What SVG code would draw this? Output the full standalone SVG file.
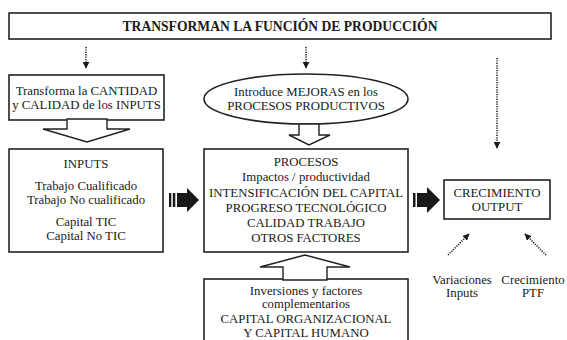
<svg xmlns="http://www.w3.org/2000/svg" width="567" height="340" viewBox="0 0 567 340" font-family="'Liberation Serif', 'DejaVu Serif', serif">
<style>
text{font-family:"Liberation Serif","DejaVu Serif",serif;font-size:12.8px;fill:#1a1a1a;text-anchor:middle}
.t{font-weight:bold;font-size:13.6px}
.box{fill:#fff;stroke:#222;stroke-width:1.6}
.hol{fill:#fff;stroke:#222;stroke-width:1.4;stroke-linejoin:miter}
.dot{fill:none;stroke:#222;stroke-width:1.6;stroke-dasharray:1.2 1.2}
.solid{fill:#1a1a1a}
</style>
<defs>
<marker id="ah" viewBox="0 0 10 10" refX="9" refY="5" markerWidth="7" markerHeight="7" markerUnits="userSpaceOnUse" orient="auto">
<path d="M0,0 L10,5 L0,10 z" fill="#1a1a1a"/>
</marker>
</defs>
<rect width="567" height="340" fill="#fff"/>

<g id="title">
<rect class="box" x="9" y="13" width="542" height="26"/>
<text class="t" x="280" y="30.5">TRANSFORMAN LA FUNCIÓN DE PRODUCCIÓN</text>
</g>

<g id="transforma">
<rect class="box" x="9" y="75" width="155" height="45"/>
<text x="86.5" y="95">Transforma la CANTIDAD</text>
<text x="86.5" y="109">y CALIDAD de los INPUTS</text>
</g>

<g id="mejoras">
<ellipse class="box" cx="306" cy="99" rx="102" ry="25"/>
<text x="306" y="96">Introduce MEJORAS en los</text>
<text x="306" y="110">PROCESOS PRODUCTIVOS</text>
</g>

<g id="inputs">
<rect class="box" x="9" y="149" width="154" height="103"/>
<text x="86" y="168">INPUTS</text>
<text x="86" y="190">Trabajo Cualificado</text>
<text x="86" y="204">Trabajo No cualificado</text>
<text x="86" y="226">Capital TIC</text>
<text x="86" y="240">Capital No TIC</text>
</g>

<g id="procesos">
<rect class="box" x="204" y="149" width="204" height="103"/>
<text x="306" y="166">PROCESOS</text>
<text x="306" y="181">Impactos / productividad</text>
<text x="306" y="197">INTENSIFICACIÓN DEL CAPITAL</text>
<text x="306" y="212">PROGRESO TECNOLÓGICO</text>
<text x="306" y="227">CALIDAD TRABAJO</text>
<text x="306" y="242">OTROS FACTORES</text>
</g>

<g id="crecimiento">
<rect class="box" x="444" y="180" width="106" height="39"/>
<text x="497" y="197">CRECIMIENTO</text>
<text x="497" y="211">OUTPUT</text>
</g>

<g id="inversiones">
<rect class="box" x="204" y="279" width="204" height="70"/>
<text x="306" y="295">Inversiones y factores</text>
<text x="306" y="308">complementarios</text>
<text x="306" y="323">CAPITAL ORGANIZACIONAL</text>
<text x="306" y="337">Y CAPITAL HUMANO</text>
</g>

<g id="labels">
<text x="462" y="284">Variaciones</text>
<text x="462" y="297">Inputs</text>
<text x="533" y="284">Crecimiento</text>
<text x="533" y="297">PTF</text>
</g>

<g id="connectors">
<line class="dot" x1="86" y1="47" x2="86" y2="68" marker-end="url(#ah)"/>
<line class="dot" x1="306" y1="47" x2="306" y2="68" marker-end="url(#ah)"/>
<line class="dot" x1="497" y1="58" x2="497" y2="148" marker-end="url(#ah)"/>
<line class="dot" x1="448" y1="255" x2="469" y2="234" marker-end="url(#ah)"/>
<line class="dot" x1="546" y1="255" x2="525" y2="234" marker-end="url(#ah)"/>
<polygon class="hol" points="67,119 107,119 107,129 130,129 87,142 43,129 67,129"/>
<polygon class="hol" points="299,124 319,124 319,135 330,135 309,145 289,135 299,135"/>
<polygon class="hol" points="283,280 283,267 260,267 305,255 350,267 327,267 327,280"/>
<g class="solid">
<rect x="169" y="193" width="2.3" height="14"/>
<rect x="172.8" y="193" width="2.5" height="14"/>
<rect x="177" y="193" width="11" height="14"/>
<polygon points="187,188 199,200 187,212"/>
<rect x="413" y="193" width="2.5" height="14"/>
<rect x="417" y="193" width="11" height="14"/>
<polygon points="427,187 440,200 427,213"/>
</g>
</g>
</svg>
